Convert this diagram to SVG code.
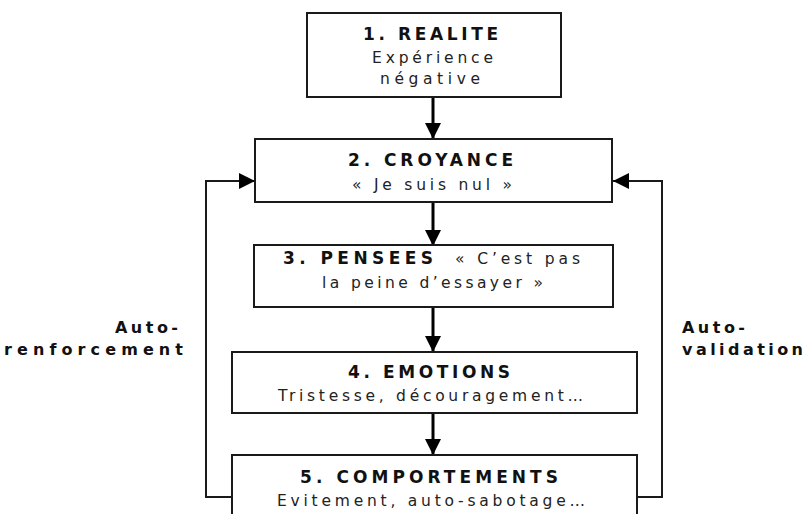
<svg xmlns="http://www.w3.org/2000/svg" width="806" height="514" viewBox="0 0 806 514">
  <style>
    .box { fill: #ffffff; stroke: #1a1a1a; stroke-width: 2; }
    .t { font-family: "DejaVu Sans", Verdana, sans-serif; font-weight: bold; font-size: 17px; fill: #111; }
    .s { font-family: "DejaVu Sans", Verdana, sans-serif; font-size: 15.5px; fill: #222; }
    .lbl { font-family: "DejaVu Sans", Verdana, sans-serif; font-weight: bold; font-size: 16px; fill: #111; }
    .arrow { fill: none; stroke: #000; stroke-width: 3; }
    .loop { fill: none; stroke: #1a1a1a; stroke-width: 2; }
  </style>
  <defs>
    <marker id="ah" markerUnits="userSpaceOnUse" viewBox="0 0 16 16" markerWidth="16" markerHeight="16" refX="16" refY="8" orient="auto">
      <path d="M0,0 L16,8 L0,16 z" fill="#000"/>
    </marker>
  </defs>
  <rect width="806" height="514" fill="#ffffff"/>

  <g id="connectors">
    <line class="arrow" x1="433" y1="97" x2="433" y2="139" marker-end="url(#ah)"/>
    <line class="arrow" x1="433" y1="202" x2="433" y2="246" marker-end="url(#ah)"/>
    <line class="arrow" x1="433" y1="307" x2="433" y2="352" marker-end="url(#ah)"/>
    <line class="arrow" x1="433" y1="413" x2="433" y2="455" marker-end="url(#ah)"/>
    <polyline class="loop" points="232,497 206,497 206,181 255,181" marker-end="url(#ah)"/>
    <polyline class="loop" points="637,497 662,497 662,181 613,181" marker-end="url(#ah)"/>
  </g>

  <g id="node-realite">
    <rect class="box" x="307" y="13" width="254" height="84"/>
    <text class="t" x="363" y="40" textLength="135" lengthAdjust="spacing">1. REALITE</text>
    <text class="s" x="372" y="63" textLength="121" lengthAdjust="spacing">Expérience</text>
    <text class="s" x="380" y="84" textLength="100" lengthAdjust="spacing">négative</text>
  </g>

  <g id="node-croyance">
    <rect class="box" x="255" y="139" width="357" height="63"/>
    <text class="t" x="348" y="166" textLength="165" lengthAdjust="spacing">2. CROYANCE</text>
    <text class="s" x="352" y="190" textLength="160" lengthAdjust="spacing">« Je suis nul »</text>
  </g>

  <g id="node-pensees">
    <rect class="box" x="254" y="245" width="359" height="62"/>
    <text class="t" x="283" y="264" textLength="150" lengthAdjust="spacing">3. PENSEES</text>
    <text class="s" x="455" y="264" textLength="125" lengthAdjust="spacing">« C’est pas</text>
    <text class="s" x="322" y="288" textLength="221" lengthAdjust="spacing">la peine d’essayer »</text>
  </g>

  <g id="node-emotions">
    <rect class="box" x="232" y="352" width="405" height="61"/>
    <text class="t" x="348" y="378" textLength="162" lengthAdjust="spacing">4. EMOTIONS</text>
    <text class="s" x="278" y="401" textLength="305" lengthAdjust="spacing">Tristesse, découragement…</text>
  </g>

  <g id="node-comportements">
    <rect class="box" x="232" y="455" width="405" height="70"/>
    <text class="t" x="300" y="483" textLength="258" lengthAdjust="spacing">5. COMPORTEMENTS</text>
    <text class="s" x="277" y="506" textLength="308" lengthAdjust="spacing">Evitement, auto-sabotage…</text>
  </g>

  <g id="label-autorenforcement">
    <text class="lbl" x="115" y="333" textLength="63" lengthAdjust="spacing">Auto-</text>
    <text class="lbl" x="4" y="355" textLength="179" lengthAdjust="spacing">renforcement</text>
  </g>

  <g id="label-autovalidation">
    <text class="lbl" x="682" y="333" textLength="63" lengthAdjust="spacing">Auto-</text>
    <text class="lbl" x="682" y="355" textLength="121" lengthAdjust="spacing">validation</text>
  </g>
</svg>
